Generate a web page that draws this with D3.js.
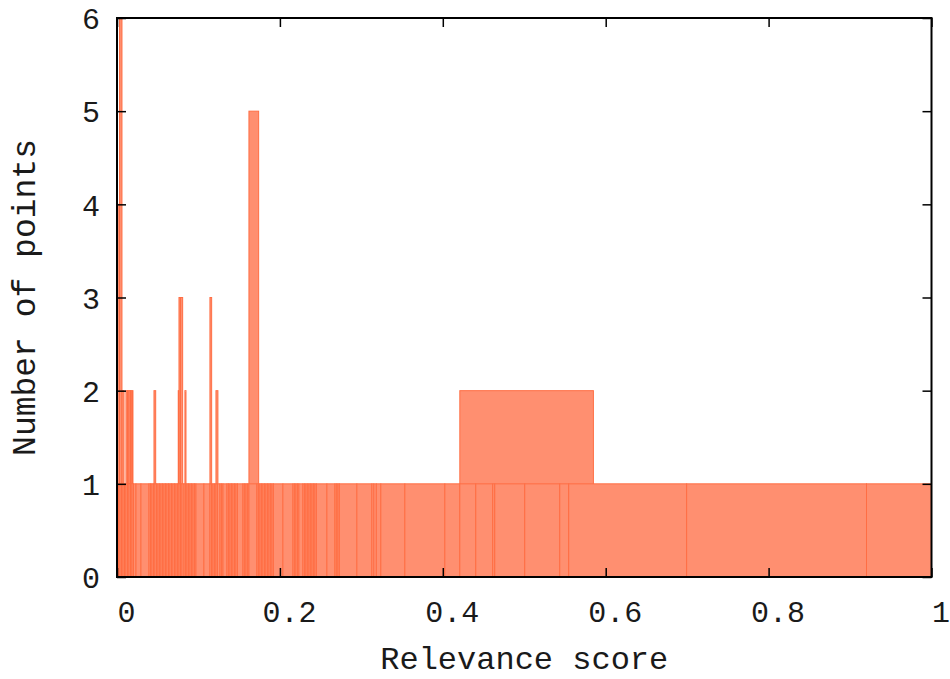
<!DOCTYPE html>
<html>
<head>
<meta charset="utf-8">
<script src="https://cdn.jsdelivr.net/npm/d3@7/dist/d3.min.js"></script>
<style>
  html, body { margin: 0; padding: 0; background: #fff; }
  svg { display: block; }
  text { font-family: "Liberation Mono", "DejaVu Sans Mono", monospace; fill: #1a1a1a; }
</style>
</head>
<body>
<svg id="chart" width="950" height="679"></svg>
<script>
// ---- data (relevance score units) ----
// boundaries of the unit-height boxes (each consecutive pair is one box of count 1)
const baseEdges = [
  0.0000, 0.0018, 0.0037, 0.0055, 0.0074, 0.0092, 0.0110,
  0.0129, 0.0147, 0.0166, 0.0184, 0.0202, 0.0233, 0.0294, 0.0393,
  0.0411, 0.0429, 0.0448, 0.0466, 0.0485, 0.0503, 0.0521, 0.0540,
  0.0558, 0.0577, 0.0595, 0.0613, 0.0632, 0.0650, 0.0669, 0.0687, 0.0706, 0.0724, 0.0742, 0.0761, 0.0779, 0.0798,
  0.0822, 0.0840, 0.0859, 0.0877, 0.0896, 0.0914, 0.0933, 0.0951, 0.0969,
  0.1067, 0.1141, 0.1160, 0.1178, 0.1196, 0.1215, 0.1233, 0.1264, 0.1282, 0.1301,
  0.1350, 0.1368, 0.1387, 0.1405, 0.1423, 0.1442, 0.1460, 0.1479,
  0.1546, 0.1564, 0.1583, 0.1601, 0.1620, 0.1718,
  0.1736, 0.1755, 0.1773, 0.1791, 0.1810, 0.1828, 0.1847, 0.1865, 0.1883, 0.1902, 0.1920,
  0.2037, 0.2160, 0.2178, 0.2196, 0.2215, 0.2233, 0.2282,
  0.2301, 0.2319, 0.2337, 0.2356, 0.2374, 0.2393, 0.2411, 0.2429, 0.2448,
  0.2577, 0.2675, 0.2693, 0.2712, 0.2730, 0.2945, 0.3129, 0.3153, 0.3184, 0.3239,
  0.3534, 0.4025, 0.4209, 0.4405, 0.4613, 0.4638, 0.5006, 0.5436, 0.5546,
  0.6994, 0.9202, 1.0000
];
// taller boxes (count > 1)
const peakStart = [0.0006, 0.0031, 0.0061, 0.0110, 0.0129, 0.0147, 0.0166, 0.0184, 0.0454, 0.0752, 0.0761, 0.0779, 0.0834, 0.1141, 0.1215, 0.1620, 0.4209];
const peakEnd   = [0.0031, 0.0061, 0.0086, 0.0129, 0.0147, 0.0166, 0.0184, 0.0196, 0.0475, 0.0761, 0.0779, 0.0806, 0.0847, 0.1162, 0.1239, 0.1739, 0.5849];
const peakCount = [4, 6, 2, 2, 2, 2, 2, 2, 2, 2, 3, 3, 2, 3, 2, 5, 2];

const xTicks = [0, 0.2, 0.4, 0.6, 0.8, 1];
const xTickLabels = ["0", "0.2", "0.4", "0.6", "0.8", "1"];
const yTicks = [0, 1, 2, 3, 4, 5, 6];
const xTitle = "Relevance score";
const yTitle = "Number of points";

// ---- layout ----
const L = 117, R = 931.5, T = 18, B = 577;
const svg = d3.select("#chart");
const x = d3.scaleLinear().domain([0, 1]).range([L, R]);
const y = d3.scaleLinear().domain([0, 6]).range([B, T]);

const FILL = "#ff8f70", STROKE = "#ff6e44";

const peaks = peakStart.map((s, i) => ({ s, e: peakEnd[i], c: peakCount[i] }));
const base = baseEdges.slice(0, -1).map((s, i) => ({ s, e: baseEdges[i + 1], c: 1 }));

const g = svg.append("g");
g.selectAll("rect.peak").data(peaks).join("rect")
  .attr("class", "peak")
  .attr("x", d => x(d.s)).attr("width", d => Math.max(0.5, x(d.e) - x(d.s)))
  .attr("y", d => y(d.c)).attr("height", d => y(0) - y(d.c))
  .attr("fill", FILL).attr("stroke", STROKE).attr("stroke-width", 1);
g.selectAll("rect.base").data(base).join("rect")
  .attr("class", "base")
  .attr("x", d => x(d.s)).attr("width", d => Math.max(0.5, x(d.e) - x(d.s)))
  .attr("y", d => y(d.c)).attr("height", d => y(0) - y(d.c))
  .attr("fill", FILL).attr("stroke", STROKE).attr("stroke-width", 1);

// ---- axes (gnuplot style: inward mirrored ticks, frame) ----
const tickLen = 9;
const axB = svg.append("g").attr("transform", `translate(0,${B})`)
  .call(d3.axisBottom(x).tickValues(xTicks).tickSizeInner(-tickLen).tickSizeOuter(0).tickFormat((d, i) => xTickLabels[i]));
axB.select(".domain").remove();
axB.selectAll("line").attr("stroke", "#000").attr("stroke-width", 1.5);
axB.selectAll("text").attr("font-size", 30).attr("dy", "0").attr("y", 45).attr("x", 9)
  .attr("font-family", "Liberation Mono").attr("fill", "#1a1a1a");

const axT = svg.append("g").attr("transform", `translate(0,${T})`)
  .call(d3.axisTop(x).tickValues(xTicks).tickSizeInner(-tickLen).tickSizeOuter(0).tickFormat(""));
axT.select(".domain").remove();
axT.selectAll("line").attr("stroke", "#000").attr("stroke-width", 1.5);

const axL = svg.append("g").attr("transform", `translate(${L},0)`)
  .call(d3.axisLeft(y).tickValues(yTicks).tickSizeInner(-tickLen).tickSizeOuter(0).tickFormat(d3.format("d")));
axL.select(".domain").remove();
axL.selectAll("line").attr("stroke", "#000").attr("stroke-width", 1.5);
axL.selectAll("text").attr("font-size", 30).attr("x", -17).attr("dy", "0.36em")
  .attr("font-family", "Liberation Mono").attr("fill", "#1a1a1a");

const axR = svg.append("g").attr("transform", `translate(${R},0)`)
  .call(d3.axisRight(y).tickValues(yTicks).tickSizeInner(-tickLen).tickSizeOuter(0).tickFormat(""));
axR.select(".domain").remove();
axR.selectAll("line").attr("stroke", "#000").attr("stroke-width", 1.5);

// frame
svg.append("rect").attr("x", L).attr("y", T).attr("width", R - L).attr("height", B - T)
  .attr("fill", "none").attr("stroke", "#000").attr("stroke-width", 2);

// titles
svg.append("text").attr("x", (L + R) / 2).attr("y", 669).attr("text-anchor", "middle")
  .attr("font-size", 32).text(xTitle);
svg.append("text").attr("transform", `translate(35,${(T + B) / 2}) rotate(-90)`)
  .attr("text-anchor", "middle").attr("font-size", 33).text(yTitle);
</script>
</body>
</html>
